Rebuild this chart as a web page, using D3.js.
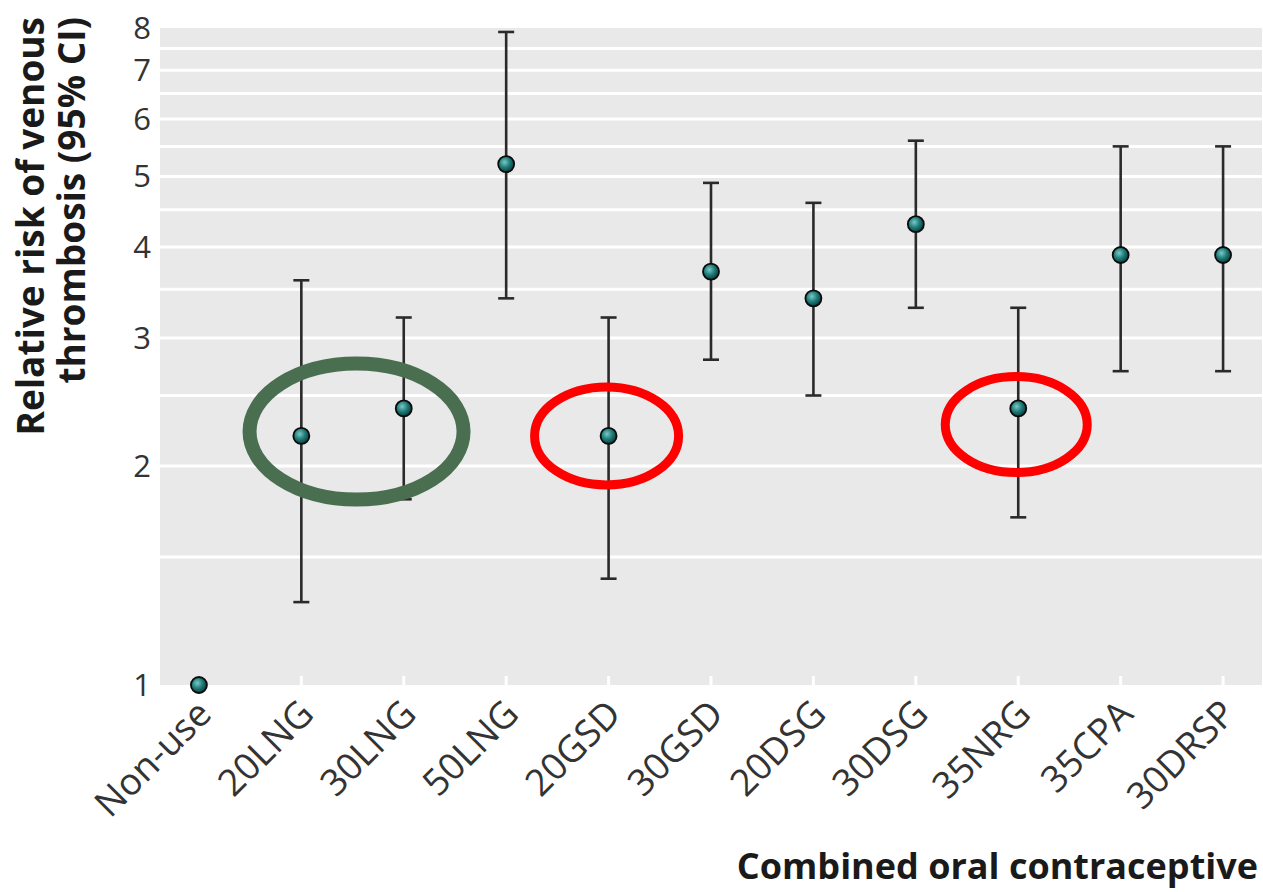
<!DOCTYPE html>
<html>
<head>
<meta charset="utf-8">
<script src="https://cdn.jsdelivr.net/npm/d3@7"></script>
<style>
  html, body { margin: 0; padding: 0; background: #fff; }
  svg { display: block; font-family: "Open Sans", "Noto Sans", sans-serif; }
</style>
</head>
<body>
<svg id="chart" width="1263" height="892"></svg>
<script>
// Combined oral contraceptive types
const categories = ["Non-use", "20LNG", "30LNG", "50LNG", "20GSD", "30GSD", "20DSG", "30DSG", "35NRG", "35CPA", "30DRSP"];
// Relative risk point estimates
const estimates = [1.0, 2.2, 2.4, 5.2, 2.2, 3.7, 3.4, 4.3, 2.4, 3.9, 3.9];
// 95% confidence interval bounds (null = reference group, no interval)
const lowerCI = [null, 1.3, 1.8, 3.4, 1.4, 2.8, 2.5, 3.3, 1.7, 2.7, 2.7];
const upperCI = [null, 3.6, 3.2, 7.9, 3.2, 4.9, 4.6, 5.6, 3.3, 5.5, 5.5];
// Labelled ticks and background grid lines on the log axis
const yTicks = [1, 2, 3, 4, 5, 6, 7, 8];
const yGrid = [1.5, 2, 2.5, 3, 3.5, 4, 4.5, 5, 5.5, 6, 6.5, 7, 7.5];
// Highlight rings: centred on a category (or between two) at a given risk level
const highlightCats = [["20LNG", "30LNG"], ["20GSD"], ["35NRG"]];
const highlightLevels = [2.23, 2.2, 2.28];
const highlightColors = ["#4a6f50", "#ff0000", "#ff0000"];

const svg = d3.select("#chart");
const plot = { left: 160, right: 1262, top: 28, bottom: 685 };

const x = d3.scalePoint().domain(categories).range([plot.left, plot.right]).padding(0.38);
const y = d3.scaleLog().domain([1, 8]).range([plot.bottom, plot.top]);

// Panel background
svg.append("rect")
  .attr("x", plot.left).attr("y", plot.top)
  .attr("width", plot.right - plot.left).attr("height", plot.bottom - plot.top)
  .attr("fill", "#e9e9e9");

// Horizontal grid lines
svg.append("g").selectAll("line").data(yGrid).join("line")
  .attr("x1", plot.left).attr("x2", plot.right)
  .attr("y1", d => y(d)).attr("y2", d => y(d))
  .attr("stroke", "#fff").attr("stroke-width", 3);

// Inward white ticks on the bottom edge
svg.append("g").selectAll("line").data(categories).join("line")
  .attr("x1", d => x(d)).attr("x2", d => x(d))
  .attr("y1", plot.bottom).attr("y2", plot.bottom - 9)
  .attr("stroke", "#fff").attr("stroke-width", 3);

// Y axis tick labels
const yAxis = d3.axisLeft(y).tickValues(yTicks).tickFormat(d3.format("d")).tickSize(0).tickPadding(9);
const yg = svg.append("g").attr("transform", `translate(${plot.left},0)`).call(yAxis);
yg.select(".domain").remove();
yg.selectAll("text")
  .attr("font-family", "'Open Sans', sans-serif")
  .attr("font-size", 31).attr("fill", "#333").attr("dy", "0.33em");

// X axis tick labels, rotated
const xAxis = d3.axisBottom(x).tickSize(0).tickPadding(0);
const xg = svg.append("g").attr("transform", `translate(0,${plot.bottom})`).call(xAxis);
xg.select(".domain").remove();
xg.selectAll("text")
  .attr("font-family", "'Open Sans', sans-serif")
  .attr("font-size", 37).attr("fill", "#333")
  .attr("text-anchor", "end")
  .attr("dy", null).attr("y", 0)
  .attr("transform", "translate(14,31) rotate(-45)");

// Axis titles
const yTitle = svg.append("text")
  .attr("transform", "translate(44,17) rotate(-90)")
  .attr("text-anchor", "end")
  .attr("font-weight", "bold").attr("font-size", 37).attr("fill", "#1a1a1a");
yTitle.append("tspan").attr("x", 0).attr("y", 0).text("Relative risk of venous");
yTitle.append("tspan").attr("x", 0).attr("y", 41).text("thrombosis (95% CI)");

svg.append("text")
  .attr("x", 1258).attr("y", 879)
  .attr("text-anchor", "end")
  .attr("font-weight", "bold").attr("font-size", 36).attr("fill", "#1a1a1a")
  .text("Combined oral contraceptive");

// Error bars
const rows = categories.map((c, i) => ({ cat: c, est: estimates[i], lo: lowerCI[i], hi: upperCI[i] }));
const withCI = rows.filter(d => d.lo != null);
const bars = svg.append("g").attr("stroke", "#2a2a2a").attr("stroke-width", 2.6);
bars.selectAll("line.v").data(withCI).join("line").attr("class", "v")
  .attr("x1", d => x(d.cat)).attr("x2", d => x(d.cat))
  .attr("y1", d => y(d.lo)).attr("y2", d => y(d.hi));
bars.selectAll("line.capHi").data(withCI).join("line").attr("class", "capHi")
  .attr("x1", d => x(d.cat) - 8).attr("x2", d => x(d.cat) + 8)
  .attr("y1", d => y(d.hi)).attr("y2", d => y(d.hi));
bars.selectAll("line.capLo").data(withCI).join("line").attr("class", "capLo")
  .attr("x1", d => x(d.cat) - 8).attr("x2", d => x(d.cat) + 8)
  .attr("y1", d => y(d.lo)).attr("y2", d => y(d.lo));

// Shaded point markers
const defs = svg.append("defs");
const grad = defs.append("radialGradient").attr("id", "pt")
  .attr("cx", "40%").attr("cy", "38%").attr("r", "60%");
grad.append("stop").attr("offset", "0%").attr("stop-color", "#7cc8c4");
grad.append("stop").attr("offset", "55%").attr("stop-color", "#1f7d7a");
grad.append("stop").attr("offset", "100%").attr("stop-color", "#0b4544");

svg.append("g").selectAll("circle").data(rows).join("circle")
  .attr("cx", d => x(d.cat)).attr("cy", d => y(d.est))
  .attr("r", 8)
  .attr("fill", "url(#pt)")
  .attr("stroke", "#0a0a0a").attr("stroke-width", 1.8);

// Highlight rings
const ringSizes = [[107, 68, 14], [72, 49, 9], [71, 48, 9]];
svg.append("g").selectAll("ellipse").data(highlightCats).join("ellipse")
  .attr("cx", (d) => d3.mean(d, c => x(c)) + (d.length > 1 ? 4 : -2))
  .attr("cy", (d, i) => y(highlightLevels[i]))
  .attr("rx", (d, i) => ringSizes[i][0])
  .attr("ry", (d, i) => ringSizes[i][1])
  .attr("fill", "none")
  .attr("stroke", (d, i) => highlightColors[i])
  .attr("stroke-width", (d, i) => ringSizes[i][2]);
</script>
</body>
</html>
